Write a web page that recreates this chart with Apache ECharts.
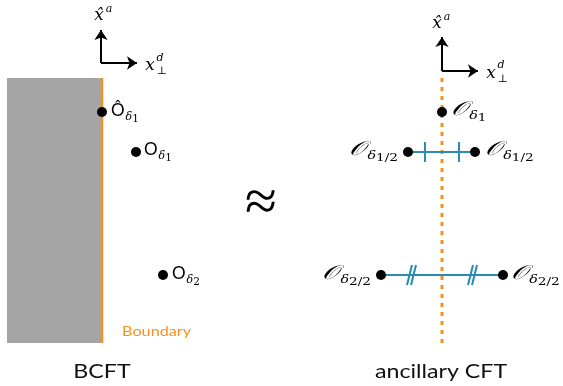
<!DOCTYPE html>
<html><head><meta charset="utf-8">
<script src="https://cdn.jsdelivr.net/npm/echarts@6/dist/echarts.min.js"></script>
<style>html,body{margin:0;padding:0;background:#fff}#c{width:563px;height:386px}</style>
</head><body><div id="c"></div>
<script>
// Diagram data (pixel-space values on a 563 x 386 canvas)
const boundaryRegion = [[7, 78, 102, 343]];
const boundaryLine = [[102, 78], [102, 343]];
const ancillaryAxis = [[442, 78], [442, 343]];
const axisArrows = [[[101, 63], [101, 30]], [[101, 63], [137, 63]], [[442, 71], [442, 37]], [[442, 71], [478, 71]]];
const operatorPoints = [[102, 112], [136, 152], [163, 275], [442, 112], [408, 152], [475, 152], [381, 275], [503, 275]];
const connectors = [[[408, 152], [475, 152]], [[381, 275], [503, 275]]];
const tickMarks = [[[425, 142], [425, 162]], [[459, 142], [459, 162]]];
const slashMarks = [[[407, 285], [412, 265]], [[411, 285], [416, 265]], [[468, 285], [473, 265]], [[472, 285], [477, 265]]];
// labels: x, y, text, align
const labels = [
  [111, 111, '{o|Ô}{s|δ}{n|1}', 'left'],
  [144, 150, '{o|O}{s|δ}{n|1}', 'left'],
  [172, 274, '{o|O}{s|δ}{n|2}', 'left'],
  [451, 110, '{c|𝒪}{s|δ}{n|1}', 'left'],
  [398, 150, '{c|𝒪}{s|δ}{n|1/2}', 'right'],
  [485, 150, '{c|𝒪}{s|δ}{n|1/2}', 'left'],
  [371, 274, '{c|𝒪}{s|δ}{n|2/2}', 'right'],
  [511, 274, '{c|𝒪}{s|δ}{n|2/2}', 'left']
];
const axisTexts = [
  [99, 16, '{m|x̂}'], [109, 9, '{sm|a}'],
  [150, 66, '{m|x}'], [160, 58, '{sm|d}'], [162, 71, '{sm|⊥}'],
  [437, 24, '{m|x̂}'], [447, 17, '{sm|a}'],
  [491, 74, '{m|x}'], [501, 65, '{sm|d}'], [503, 79, '{sm|⊥}']
];
const captions = [[102, 372, 'BCFT', 'cap'], [441, 372, 'ancillary CFT', 'cap'], [122, 331, 'Boundary', 'bnd'], [261, 205, '≈', 'approx']];

const ORANGE = '#f5921e', TEAL = '#2b8bb3';
const rich = {
  o: {fontFamily: 'Lato', fontSize: 17, color: '#000'},
  c: {fontFamily: 'DejaVu Serif', fontStyle: 'italic', fontSize: 20, color: '#000'},
  s: {fontFamily: 'DejaVu Serif', fontStyle: 'italic', fontSize: 11, color: '#000', padding: [12, 0, 0, 1]},
  n: {fontFamily: 'DejaVu Serif', fontSize: 10.5, color: '#000', padding: [17, 0, 0, 0]},
  m: {fontFamily: 'DejaVu Serif', fontStyle: 'italic', fontSize: 17, color: '#000'},
  sm: {fontFamily: 'DejaVu Serif', fontStyle: 'italic', fontSize: 11, color: '#000'}
};
const capStyles = {
  cap: {fontFamily: 'Lato', fontSize: 19, fill: '#111', align: 'center'},
  bnd: {fontFamily: 'Lato', fontSize: 14, fill: ORANGE, align: 'left'},
  approx: {fontFamily: 'Liberation Serif', fontSize: 58, fill: '#000', align: 'center'}
};
const capScale = {cap: 1.22, bnd: 1.16, approx: 1};

const chart = echarts.init(document.getElementById('c'), null, {renderer: 'canvas'});
const lines = (arr, color, w, sym, z) => ({
  type: 'lines', coordinateSystem: 'cartesian2d', silent: true, animation: false, z: z || 3,
  symbol: sym || ['none', 'none'], symbolSize: 10,
  lineStyle: {color: color, width: w, opacity: 1, curveness: 0},
  data: arr.map(c => ({coords: c}))
});
chart.setOption({
  animation: false,
  grid: {left: 0, right: 0, top: 0, bottom: 0},
  xAxis: {type: 'value', min: 0, max: 563, show: false},
  yAxis: {type: 'value', min: 0, max: 386, inverse: true, show: false},
  series: [
    {type: 'custom', z: 1, data: boundaryRegion, renderItem: (p, api) => {
      const a = api.coord([api.value(0), api.value(1)]), b = api.coord([api.value(2), api.value(3)]);
      return {type: 'rect', shape: {x: a[0], y: a[1], width: b[0] - a[0], height: b[1] - a[1]}, style: {fill: '#a5a5a5'}};
    }},
    {type: 'line', z: 2, data: boundaryLine, symbol: 'none', lineStyle: {color: ORANGE, width: 2.5}},
    {type: 'line', z: 2, data: ancillaryAxis, symbol: 'none', lineStyle: {color: ORANGE, width: 3, type: [4, 5], cap: 'butt'}},
    lines(axisArrows, '#000', 2, ['none', 'arrow']),
    lines(connectors, TEAL, 2),
    lines(tickMarks, TEAL, 2),
    lines(slashMarks, TEAL, 2),
    {type: 'scatter', z: 10, data: operatorPoints, symbolSize: 10, itemStyle: {color: '#000', opacity: 1}},
    {type: 'custom', z: 11, data: labels.map(l => [l[0], l[1]]), renderItem: (p, api) => {
      const l = labels[p.dataIndex];
      const pt = api.coord([l[0], l[1]]);
      const sx = l[2].indexOf('{c|') === 0 ? 1.3 : 1;
      return {type: 'text', x: pt[0], y: pt[1], scaleX: sx, style: {text: l[2], rich: rich, align: l[3], verticalAlign: 'middle'}};
    }},
    {type: 'custom', z: 11, data: axisTexts.map(l => [l[0], l[1]]), renderItem: (p, api) => {
      const l = axisTexts[p.dataIndex];
      const pt = api.coord([l[0], l[1]]);
      return {type: 'text', x: pt[0], y: pt[1], style: {text: l[2], rich: rich, align: 'center', verticalAlign: 'middle'}};
    }},
    {type: 'custom', z: 11, data: captions.map(l => [l[0], l[1]]), renderItem: (p, api) => {
      const l = captions[p.dataIndex];
      const pt = api.coord([l[0], l[1]]);
      return {type: 'text', x: pt[0], y: pt[1], scaleX: capScale[l[3]], style: Object.assign({text: l[2], verticalAlign: 'middle'}, capStyles[l[3]])};
    }}
  ]
});
</script></body></html>
